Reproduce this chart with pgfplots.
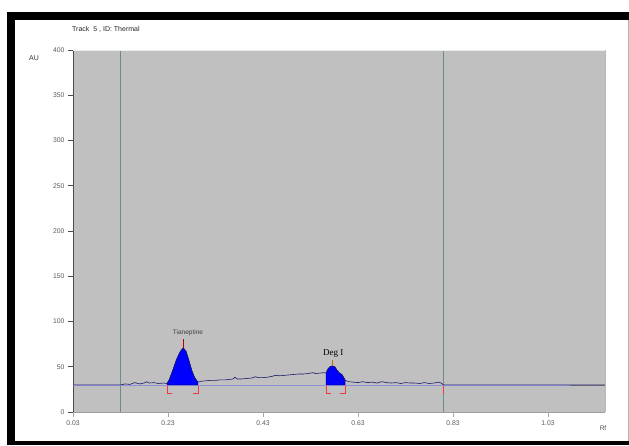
\documentclass[border=0pt]{standalone}
\usepackage{pgfplots}
\pgfplotsset{compat=1.18}
\usepackage{fontspec}
\setmainfont{Liberation Sans}
\newfontfamily\seriffont{Liberation Serif}
\definecolor{bggrey}{RGB}{192,192,192}
\definecolor{vline}{RGB}{105,140,140}
\definecolor{signal}{RGB}{25,25,110}
\definecolor{basegrey}{RGB}{110,110,120}
\definecolor{lavender}{RGB}{145,145,215}
\definecolor{ticktxt}{RGB}{90,90,90}
\definecolor{mred}{RGB}{235,60,60}
\begin{document}
\begin{tikzpicture}[x=1pt,y=1pt]
\path[use as bounding box] (0,0) rectangle (629,445);
\fill[white] (0,0) rectangle (629,445);
% black frame
\fill[black] (7,425) rectangle (629,433);
\fill[black] (7,0) rectangle (15,433);
\fill[black] (7,0) rectangle (629,4);
\draw[gray!60, line width=0.8pt] (628,4) -- (628,425);
\begin{axis}[
  at={(73pt,33pt)}, anchor=south west,
  scale only axis, width=532pt, height=362pt,
  xmin=0.03, xmax=1.15, ymin=0, ymax=400,
  axis background/.style={fill=bggrey},
  axis x line=bottom, axis y line=left,
  axis line style={-},
  x axis line style={draw=gray!75, line width=0.6pt},
  y axis line style={draw=black!70, line width=0.9pt},
  xtick={0.03,0.23,0.43,0.63,0.83,1.03},
  xticklabels={0.03,0.23,0.43,0.63,0.83,1.03},
  ytick={0,50,100,150,200,250,300,350,400},
  tick align=outside, major tick length=5pt,
  ytick style={draw=black!70, line width=0.9pt},
  xtick style={draw=gray!70, line width=0.5pt},
  ticklabel style={font=\fontsize{6.8}{8}\selectfont, text=ticktxt},
  /pgf/number format/assume math mode=true,
  clip=false,
]
% vertical lines
\addplot[vline, line width=1.3pt] coordinates {(0.13,0) (0.13,400)};
\addplot[vline, line width=1.3pt] coordinates {(0.81,0) (0.81,400)};
% baseline
\addplot[basegrey, line width=1.0pt] coordinates {(0.03,29.5) (1.15,29.5)};
\addplot[lavender, line width=0.7pt] coordinates {(0.03,30) (1.077,30)};
% peak fills
\addplot[fill=blue, draw=blue!60!black, line width=0.4pt] coordinates {
 (0.228,30) (0.228,31.5) (0.233,36) (0.240,46) (0.248,58) (0.255,66) (0.262,71)
 (0.268,67) (0.274,57) (0.280,46) (0.286,38) (0.293,33) (0.293,30)} --cycle;
\addplot[fill=blue, draw=blue!60!black, line width=0.4pt] coordinates {
 (0.563,30) (0.563,43) (0.566,47) (0.571,50) (0.576,51) (0.581,50) (0.586,46)
 (0.591,43) (0.596,41.5) (0.600,38) (0.603,35) (0.603,30)} --cycle;
% signal
\addplot[signal, line width=0.6pt] coordinates {
 (0.03,30) (0.13,30) (0.14,31) (0.15,30.5) (0.16,32.5) (0.17,31) (0.18,32)
 (0.185,33.5) (0.19,32) (0.20,32.5) (0.21,31.5) (0.22,32) (0.228,31.5)
 (0.233,36) (0.240,46) (0.248,58) (0.255,66) (0.262,71) (0.268,67) (0.274,57)
 (0.280,46) (0.286,38) (0.293,33)
 (0.30,34) (0.31,34.5) (0.32,35) (0.33,35) (0.34,35.5) (0.35,35.5) (0.36,36)
 (0.367,36.5) (0.371,38.5) (0.376,36.5) (0.385,36.5) (0.395,37) (0.405,37.5)
 (0.41,38) (0.414,39) (0.42,38) (0.43,38) (0.44,38.5) (0.45,39.5) (0.456,40.5)
 (0.465,40) (0.475,40.5) (0.485,41) (0.495,41.5) (0.505,42) (0.515,42)
 (0.525,42.5) (0.535,43.5) (0.54,42.5) (0.55,43) (0.558,43.5) (0.563,43)
 (0.566,47) (0.571,50) (0.576,51) (0.581,50) (0.586,46) (0.591,43) (0.596,41.5)
 (0.600,38) (0.603,35)
 (0.61,33.5) (0.62,33) (0.63,32.5) (0.64,33.5) (0.65,32.5) (0.66,33) (0.67,32)
 (0.68,33.5) (0.69,32.5) (0.70,32) (0.71,32.5) (0.72,31.5) (0.73,32.5) (0.74,32)
 (0.75,32) (0.76,31.5) (0.77,32.5) (0.78,31.5) (0.79,32) (0.80,33) (0.805,32)
 (0.81,30) (1.15,30)};
% red boundary markers
\addplot[mred, line width=0.8pt] coordinates {(0.228,29) (0.228,21) (0.238,21)};
\addplot[mred, line width=0.8pt] coordinates {(0.293,29) (0.293,21) (0.283,21)};
\addplot[mred, line width=0.8pt] coordinates {(0.563,29) (0.563,21) (0.573,21)};
\addplot[mred, line width=0.8pt] coordinates {(0.603,29) (0.603,21) (0.593,21)};
\addplot[mred, line width=0.8pt] coordinates {(0.81,29) (0.81,20)};
% apex ticks
\addplot[red!70!black, line width=0.6pt] coordinates {(0.262,71) (0.262,81)};
\addplot[orange!80!black, line width=0.6pt] coordinates {(0.576,51) (0.576,58)};
% edges
\draw[gray!55, line width=0.6pt] (rel axis cs:1,0) -- (rel axis cs:1,1);
\draw[white!85!gray, line width=0.6pt] (rel axis cs:0,1) -- (rel axis cs:1,1);
% labels
\node[font=\fontsize{6.5}{8}\selectfont, text=black!75, inner sep=0pt] at (axis cs:0.272,87) {Tianeptine};
\node[font=\seriffont\fontsize{9}{10}\selectfont, inner sep=0pt] at (axis cs:0.578,65) {Deg I};
\end{axis}
\node[anchor=west, font=\fontsize{7}{8}\selectfont, text=black!85, inner sep=0pt] at (72,416) {Track \ 5 , ID: Thermal};
\node[font=\fontsize{7}{8}\selectfont, text=black!80, inner sep=0pt] at (34,387) {AU};
\node[font=\fontsize{6.5}{7}\selectfont, text=black!70, inner sep=0pt] at (603,17) {Rf};
\end{tikzpicture}
\end{document}
